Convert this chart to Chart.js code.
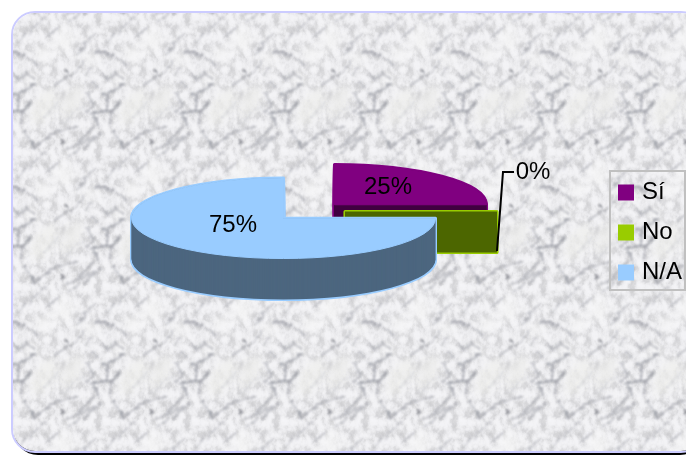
<!DOCTYPE html>
<html>
<head>
<meta charset="utf-8">
<script src="https://cdn.jsdelivr.net/npm/chart.js@4"></script>
<style>
    html, body { margin: 0; padding: 0; background: #fff; width: 686px; height: 455px; overflow: hidden; }
    #frame {
        position: absolute; left: 11px; top: 11px; width: 690px; height: 438px;
        border: 2px solid #ccccff; border-radius: 24px; overflow: hidden;
    }
    #shadow { position: absolute; left: 14px; top: 14px; width: 690px; height: 441px; border-radius: 24px; background: #000; }
    #frame svg { position: absolute; left: 0; top: 0; }
    canvas { position: absolute; left: 0; top: 0; }
</style>
</head>
<body>
<div id="shadow"></div>
<div id="frame">
    <!-- marble tile, repeats every 89x135 like the picture fill it stands for -->
    <svg width="700" height="440">
        <defs>
            <filter id="cloud" x="0" y="0" width="100%" height="100%" color-interpolation-filters="sRGB">
                <feTurbulence type="fractalNoise" baseFrequency="0.135 0.104" numOctaves="4" seed="5" stitchTiles="stitch"/>
                <feColorMatrix type="matrix" values="1 0 0 0 0  1 0 0 0 0  1 0 0 0 0  0 0 0 0 1"/>
                <feComponentTransfer>
                    <feFuncR type="table" tableValues="0.8 0.82 0.86 0.92 0.95 0.96 0.97"/>
                    <feFuncG type="table" tableValues="0.8 0.82 0.86 0.92 0.95 0.96 0.97"/>
                    <feFuncB type="table" tableValues="0.81 0.83 0.87 0.93 0.96 0.97 0.98"/>
                </feComponentTransfer>
            </filter>
            <filter id="soft" x="-20%" y="-20%" width="140%" height="140%" color-interpolation-filters="sRGB">
                <feTurbulence type="fractalNoise" baseFrequency="0.22" numOctaves="2" seed="3" result="wob"/>
                <feDisplacementMap in="SourceGraphic" in2="wob" scale="6" xChannelSelector="R" yChannelSelector="G"/>
                <feGaussianBlur stdDeviation="0.9"/>
            </filter>
            <filter id="softer" x="-20%" y="-20%" width="140%" height="140%"><feGaussianBlur stdDeviation="4"/></filter>
            <g id="patches" filter="url(#softer)" opacity="0.7">
                <ellipse cx="30" cy="93" rx="10" ry="20" transform="rotate(35 30 93)" fill="#efefec"/>
                <ellipse cx="58" cy="88" rx="9" ry="18" transform="rotate(25 58 88)" fill="#ececea"/>
                <ellipse cx="50" cy="25" rx="10" ry="12" fill="#f8f8f8"/>
                <ellipse cx="30" cy="40" rx="9" ry="8" fill="#f6f6f6"/>
                <ellipse cx="17" cy="66" rx="9" ry="7" fill="#f7f7f8"/>
                <ellipse cx="76" cy="45" rx="8" ry="7" fill="#f6f6f6"/>
            </g>
            <g id="veins" filter="url(#soft)" fill="none" stroke="#8f919a" stroke-linecap="round" stroke-linejoin="round">
                <path d="M20 135 L32 124 L43 117 L63 113" stroke-width="1.8" stroke-opacity=".6"/>
                <path d="M10 117 L16 126 L20 133" stroke-width="2" stroke-opacity=".7"/>
                <path d="M0 97 L9 97 L16 88 M0 80 L10 77 L20 70" stroke-width="2.2" stroke-opacity=".7"/>
                <path d="M9 97 L6 110 M4 82 L4 95" stroke-width="2" stroke-opacity=".65"/>
                <path d="M77 100 L89 97 M80 100 L84 112" stroke-width="2.2" stroke-opacity=".7"/>
                <path d="M0 38 L10 42 M80 38 L89 38" stroke-width="2.4" stroke-opacity=".65"/>
                <path d="M33 23 L45 13 M63 40 L80 20 M55 8 L66 0" stroke-width="2" stroke-opacity=".45"/>
                <path d="M63 130 L80 113 M53 135 L83 122 M70 135 L86 118" stroke-width="2" stroke-opacity=".5"/>
                <path d="M58 62 L70 48 M72 62 L78 52 M40 72 L56 60" stroke-width="1.8" stroke-opacity=".5"/>
                <path d="M0 60 L6 66 L12 58 L20 64 M22 50 L14 44" stroke-width="2.4" stroke-opacity=".5"/>
                <path d="M74 80 L80 92 L72 98 M84 72 L78 68" stroke-width="1.8" stroke-opacity=".55"/>
                <path d="M50 110 L60 98 L70 92 M30 104 L44 88" stroke-width="1.6" stroke-opacity=".3"/>
                <path d="M15 20 L25 8 L32 2 M5 28 L12 18" stroke-width="1.8" stroke-opacity=".45"/>
                <path d="M53 57 l0.5 0.5 M48 127 l0.5 0.5" stroke="#5f616a" stroke-width="2.4"/>
            </g>
            <pattern id="tile" x="1" y="1" width="89" height="135" patternUnits="userSpaceOnUse">
                <rect width="89" height="135" filter="url(#cloud)"/>
                <use href="#patches"/><use href="#patches" x="-89"/><use href="#patches" x="89"/>
                <use href="#veins"/><use href="#veins" x="-89"/><use href="#veins" x="89"/>
                <use href="#veins" y="-135"/><use href="#veins" y="135"/>
            </pattern>
        </defs>
        <rect width="700" height="440" fill="url(#tile)"/>
    </svg>
</div>
<canvas id="chart" width="686" height="455"></canvas>
<script>
const categories = ['Sí', 'No', 'N/A'];
const values = [25, 0, 75];
const sliceColors = ['#800080', '#99cc00', '#99ccff'];
const sideColors = ['#400040', '#4c6600', '#4c667f'];
const labelSpots = [[388, 187], [533, 172], [233, 225]];

const squash = 0.265;
const depth = 41;
const pieLift = -21;
const fontFamily = '"Liberation Sans", Arial, sans-serif';

function sector(ctx, x, y, rx, ry, a0, a1) {
    ctx.beginPath();
    ctx.moveTo(x, y);
    ctx.ellipse(x, y, rx, ry, 0, a0, a1);
    ctx.closePath();
}

// the pie is tilted by hand, Chart.js only has the flat arcs
const tiltedPie = {
    id: 'tiltedPie',
    beforeDatasetsDraw(chart) {
        const ctx = chart.ctx;
        const arcs = chart.getDatasetMeta(0).data;
        arcs.forEach((arc, i) => {
            const mid = (arc.startAngle + arc.endAngle) / 2;
            const off = arc.options.offset;
            const x = arc.x + Math.cos(mid) * off;
            const y = arc.y + pieLift + Math.sin(mid) * off * squash;
            const rx = arc.outerRadius;
            const ry = rx * squash;
            const a0 = arc.startAngle, a1 = arc.endAngle;

            ctx.save();
            ctx.lineJoin = 'round';
            ctx.strokeStyle = sliceColors[i];
            ctx.lineWidth = 3;
            for (let d = depth; d >= 0; d--) {
                sector(ctx, x, y + d, rx, ry, a0, a1);
                ctx.stroke();
            }
            ctx.fillStyle = sideColors[i];
            for (let d = depth; d >= 0; d--) {
                sector(ctx, x, y + d, rx, ry, a0, a1);
                ctx.fill();
            }
            // cut face of the slice, also the only visible part of a 0% slice
            ctx.fillRect(x, y, Math.cos(a1) * rx, depth);
            if (values[i] > 0) {
                sector(ctx, x, y, rx, ry, a0, a1);
                ctx.lineWidth = 1;
                ctx.fillStyle = sliceColors[i];
                ctx.fill();
                ctx.stroke();
            }
            ctx.restore();
        });
        return false;
    },
    afterDraw(chart) {
        const ctx = chart.ctx;
        const total = values.reduce((a, b) => a + b, 0);
        ctx.save();
        ctx.fillStyle = '#000';
        ctx.font = '24px ' + fontFamily;
        ctx.textAlign = 'center';
        ctx.textBaseline = 'middle';
        values.forEach((v, i) => {
            ctx.fillText(Math.round(v / total * 100) + '%', labelSpots[i][0], labelSpots[i][1]);
        });
        // leader line of the 0% label
        ctx.strokeStyle = '#000';
        ctx.lineWidth = 2;
        ctx.beginPath();
        ctx.moveTo(497, 251);
        ctx.lineTo(503, 172);
        ctx.lineTo(514, 172);
        ctx.stroke();
        // legend box
        ctx.strokeStyle = '#c0c0c0';
        ctx.lineWidth = 2;
        ctx.strokeRect(610, 171, 75, 119);
        ctx.restore();
    }
};

new Chart(document.getElementById('chart'), {
    type: 'pie',
    data: {
        labels: categories,
        datasets: [{
            data: values,
            backgroundColor: sliceColors,
            borderWidth: 0,
            offset: 36
        }]
    },
    options: {
        responsive: false,
        animation: false,
        radius: 152,
        layout: { padding: { left: 12, top: 10, right: -6 } },
        plugins: {
            tooltip: { enabled: false },
            legend: {
                position: 'right',
                labels: {
                    boxWidth: 8,
                    boxHeight: 8,
                    padding: 16,
                    color: '#000',
                    font: { size: 24, family: fontFamily },
                    generateLabels: () => categories.map((text, i) => ({
                        text: text,
                        fillStyle: sliceColors[i],
                        strokeStyle: sliceColors[i],
                        lineWidth: 8,
                        index: i
                    }))
                }
            }
        }
    },
    plugins: [tiltedPie]
});
</script>
</body>
</html>
